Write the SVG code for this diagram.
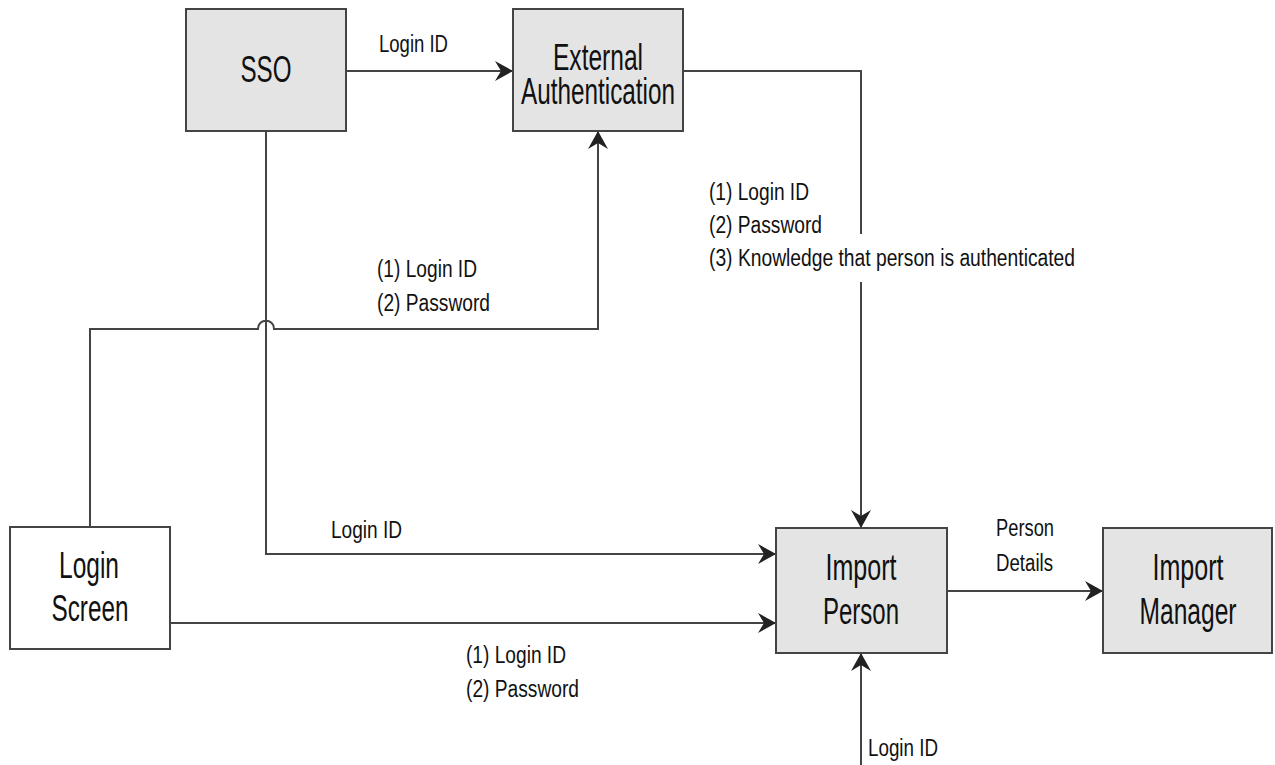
<svg xmlns="http://www.w3.org/2000/svg" width="1275" height="765" viewBox="0 0 1275 765">
<style>
.box{fill:#e4e4e4;stroke:#444;stroke-width:2}
.wbox{fill:#fff;stroke:#444;stroke-width:2}
.big{font-family:"Liberation Sans",Arial,sans-serif;font-size:36px;fill:#111;text-anchor:middle}
.sm{font-family:"Liberation Sans",Arial,sans-serif;font-size:23px;fill:#111}
.ln{fill:none;stroke:#444;stroke-width:2}
.arr{marker-end:url(#ah)}
</style>
<defs>
<marker id="ah" markerUnits="userSpaceOnUse" viewBox="0 0 18 20" refX="18" refY="10" markerWidth="18" markerHeight="20" orient="auto">
<path d="M0,0 L18,10 L0,20 L6,10 Z" fill="#222"/>
</marker>
</defs>
<rect width="1275" height="765" fill="#fff"/>
<g id="connectors">
<path class="ln arr" d="M346,71 H513"/>
<path class="ln" d="M683,71 H861 V234"/>
<path class="ln arr" d="M861,282 V528"/>
<path class="ln arr" d="M266,131 V554 H776"/>
<path class="ln arr" d="M90,527 V329 H258 C258,318 274,318 274,329 H598 V131"/>
<path class="ln arr" d="M170,623 H776"/>
<path class="ln arr" d="M947,591 H1103"/>
<path class="ln arr" d="M861,765 V653"/>
<text class="sm" x="379" y="52" textLength="69" lengthAdjust="spacingAndGlyphs">Login ID</text>
<text class="sm" x="377" y="277" textLength="100" lengthAdjust="spacingAndGlyphs">(1) Login ID</text>
<text class="sm" x="377" y="311" textLength="113" lengthAdjust="spacingAndGlyphs">(2) Password</text>
<text class="sm" x="709" y="200" textLength="100" lengthAdjust="spacingAndGlyphs">(1) Login ID</text>
<text class="sm" x="709" y="233" textLength="113" lengthAdjust="spacingAndGlyphs">(2) Password</text>
<text class="sm" x="709" y="266" textLength="366" lengthAdjust="spacingAndGlyphs">(3) Knowledge that person is authenticated</text>
<text class="sm" x="331" y="538" textLength="71" lengthAdjust="spacingAndGlyphs">Login ID</text>
<text class="sm" x="466" y="663" textLength="100" lengthAdjust="spacingAndGlyphs">(1) Login ID</text>
<text class="sm" x="466" y="697" textLength="113" lengthAdjust="spacingAndGlyphs">(2) Password</text>
<text class="sm" x="996" y="536" textLength="58" lengthAdjust="spacingAndGlyphs">Person</text>
<text class="sm" x="996" y="571" textLength="57" lengthAdjust="spacingAndGlyphs">Details</text>
<text class="sm" x="868" y="756" textLength="70" lengthAdjust="spacingAndGlyphs">Login ID</text>
</g>
<g id="sso">
<rect class="box" x="186" y="9" width="160" height="122"/>
<text class="big" x="266" y="82" textLength="51" lengthAdjust="spacingAndGlyphs">SSO</text>
</g>
<g id="external-authentication">
<rect class="box" x="513" y="9" width="170" height="122"/>
<text class="big" x="598" y="70" textLength="90" lengthAdjust="spacingAndGlyphs">External</text>
<text class="big" x="598" y="104" textLength="154" lengthAdjust="spacingAndGlyphs">Authentication</text>
</g>
<g id="login-screen">
<rect class="wbox" x="10" y="527" width="160" height="122"/>
<text class="big" x="89" y="578" textLength="60" lengthAdjust="spacingAndGlyphs">Login</text>
<text class="big" x="90" y="621" textLength="77" lengthAdjust="spacingAndGlyphs">Screen</text>
</g>
<g id="import-person">
<rect class="box" x="776" y="528" width="171" height="125"/>
<text class="big" x="861" y="580" textLength="71" lengthAdjust="spacingAndGlyphs">Import</text>
<text class="big" x="861" y="624" textLength="76" lengthAdjust="spacingAndGlyphs">Person</text>
</g>
<g id="import-manager">
<rect class="box" x="1103" y="528" width="169" height="125"/>
<text class="big" x="1188" y="580" textLength="71" lengthAdjust="spacingAndGlyphs">Import</text>
<text class="big" x="1188" y="624" textLength="97" lengthAdjust="spacingAndGlyphs">Manager</text>
</g>
</svg>
